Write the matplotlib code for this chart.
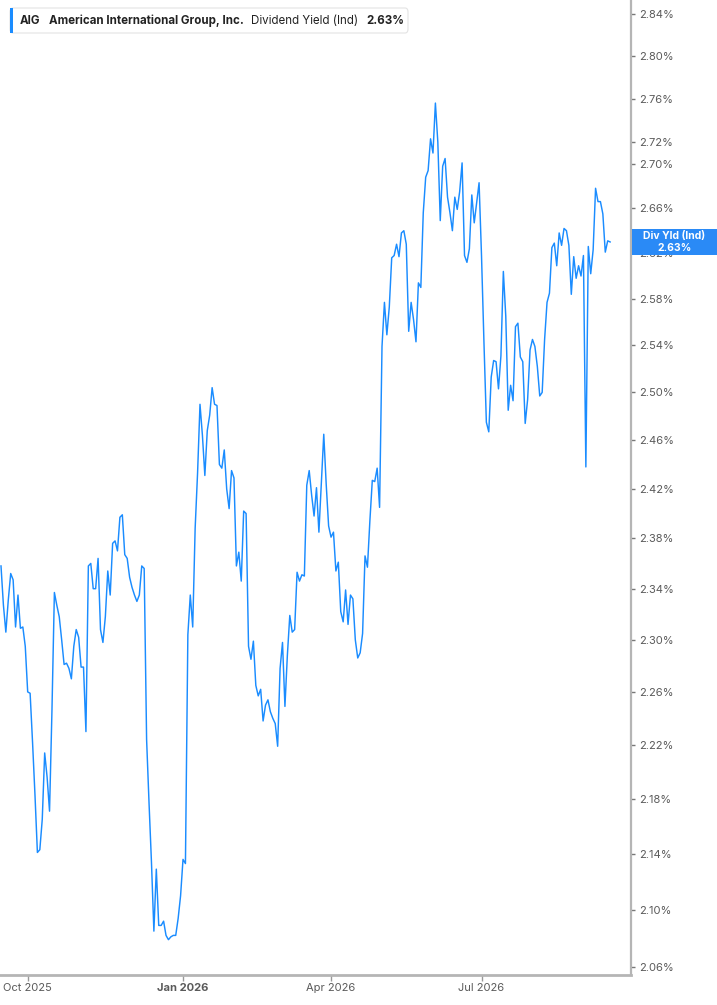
import numpy as np
import pandas as pd
import matplotlib
matplotlib.use("Agg")
import matplotlib.pyplot as plt
from matplotlib.patches import Rectangle, FancyBboxPatch
from matplotlib.transforms import IdentityTransform

symbol = "AIG"
company = "American International Group, Inc."
metric = "Dividend Yield (Ind)"
badge_name = "Div Yld (Ind)"

# NYSE holidays in the window
holidays = ["2025-11-27", "2025-12-25", "2026-01-01", "2026-01-19", "2026-02-16",
            "2026-04-03", "2026-05-25", "2026-06-19", "2026-07-03", "2026-09-07"]
dates = pd.bdate_range("2025-09-16", "2026-09-16", freq="C", holidays=holidays)

# dividend yield, % (one value per trading day)
yld = [
    2.358, 2.327, 2.306, 2.331, 2.352, 2.347, 2.310, 2.335, 2.309, 2.310,
    2.295, 2.260, 2.259, 2.222, 2.183, 2.141, 2.143, 2.165, 2.214, 2.196,
    2.171, 2.246, 2.337, 2.327, 2.318, 2.300, 2.281, 2.282, 2.278, 2.270,
    2.295, 2.308, 2.302, 2.279, 2.279, 2.230, 2.358, 2.360, 2.340, 2.340,
    2.364, 2.308, 2.298, 2.318, 2.354, 2.335, 2.376, 2.378, 2.370, 2.397,
    2.399, 2.367, 2.364, 2.349, 2.341, 2.335, 2.330, 2.335, 2.358, 2.356,
    2.224, 2.177, 2.134, 2.085, 2.129, 2.089, 2.089, 2.092, 2.082, 2.079,
    2.081, 2.082, 2.082, 2.094, 2.110, 2.136, 2.133, 2.304, 2.335, 2.310,
    2.388, 2.433, 2.490, 2.464, 2.431, 2.468, 2.481, 2.504, 2.490, 2.489,
    2.440, 2.437, 2.452, 2.420, 2.404, 2.435, 2.429, 2.358, 2.369, 2.346,
    2.402, 2.400, 2.295, 2.285, 2.299, 2.265, 2.257, 2.262, 2.238, 2.250,
    2.254, 2.245, 2.240, 2.236, 2.219, 2.278, 2.298, 2.249, 2.288, 2.319,
    2.306, 2.308, 2.353, 2.346, 2.351, 2.350, 2.423, 2.435, 2.415, 2.398,
    2.421, 2.385, 2.424, 2.465, 2.424, 2.390, 2.381, 2.385, 2.354, 2.361,
    2.322, 2.314, 2.339, 2.312, 2.335, 2.332, 2.300, 2.286, 2.290, 2.305,
    2.366, 2.357, 2.394, 2.427, 2.426, 2.437, 2.405, 2.539, 2.577, 2.549,
    2.573, 2.616, 2.618, 2.628, 2.617, 2.638, 2.640, 2.628, 2.552, 2.577,
    2.562, 2.543, 2.594, 2.590, 2.656, 2.688, 2.694, 2.723, 2.710, 2.756,
    2.720, 2.649, 2.698, 2.705, 2.670, 2.656, 2.640, 2.670, 2.659, 2.675,
    2.701, 2.618, 2.612, 2.624, 2.672, 2.647, 2.665, 2.683, 2.618, 2.543,
    2.475, 2.467, 2.513, 2.527, 2.526, 2.503, 2.531, 2.604, 2.565, 2.485,
    2.506, 2.493, 2.556, 2.559, 2.530, 2.526, 2.474, 2.494, 2.536, 2.545,
    2.539, 2.522, 2.497, 2.500, 2.545, 2.577, 2.585, 2.625, 2.629, 2.609,
    2.638, 2.627, 2.642, 2.640, 2.627, 2.584, 2.617, 2.598, 2.609, 2.600,
    2.618, 2.438, 2.626, 2.602, 2.623, 2.678, 2.666, 2.666, 2.655, 2.621,
    2.631, 2.630,
]

ytick_vals = [2.06, 2.10, 2.14, 2.18, 2.22, 2.26, 2.30, 2.34, 2.38, 2.42, 2.46,
              2.50, 2.54, 2.58, 2.62, 2.66, 2.70, 2.72, 2.76, 2.80, 2.84]

plt.rcParams['font.family'] = ['Inter', 'DejaVu Sans']

W, H = 717, 1005
line_col = '#1a8cff'

fig = plt.figure(figsize=(W / 100, H / 100), dpi=100)
ax = fig.add_axes([0, 30 / H, 631 / W, 975 / H])

x = np.arange(len(dates))
ax.plot(x, yld, color=line_col, lw=1.05)

ax.set_yscale('log')
ax.set_ylim(2.0544, 2.8534)
ax.set_xlim(-0.41, 259.6)

ax.yaxis.tick_right()
ax.set_yticks(ytick_vals, labels=[f"{v:.2f}%" for v in ytick_vals])
ax.minorticks_off()

# quarter ticks at first trading day of Oct / Jan / Apr / Jul
months = dates.month
xt = [i for i in range(1, len(dates)) if months[i] != months[i - 1] and months[i] in (1, 4, 7, 10)]
ax.set_xticks(xt, labels=[dates[i].strftime('%b %Y') for i in xt])
for lab in ax.get_xticklabels():
    if lab.get_text().startswith('Jan'):
        lab.set_fontweight('bold')
        lab.set_fontsize(10)
        lab.set_color('#4a4a4a')

for s in ['top', 'left']:
    ax.spines[s].set_visible(False)
for s in ['right', 'bottom']:
    ax.spines[s].set_color('#b5b5b5')
ax.spines['right'].set_linewidth(1.6)
ax.spines['bottom'].set_linewidth(2.0)

ax.tick_params(axis='y', length=3, width=1, color='#777', labelcolor='#5a5a5a',
               labelsize=8, pad=3)
ax.tick_params(axis='x', length=4, width=1, color='#999', labelcolor='#5a5a5a',
               labelsize=8, pad=2)

# value badge on right axis
yc = ax.transData.transform((0, yld[-1]))[1]
fig.add_artist(Rectangle((632, yc - 13), 85, 26, transform=IdentityTransform(),
                         facecolor='#2a8af6', edgecolor='none', zorder=5))
fig.text(674.5 / W, (yc + 6) / H, badge_name, ha='center', va='center',
         color='white', fontsize=7.5, fontweight='bold', zorder=6)
fig.text(674.5 / W, (yc - 6) / H, f"{yld[-1]:.2f}%", ha='center', va='center',
         color='white', fontsize=7.5, fontweight='bold', zorder=6)

# header legend
fig.add_artist(FancyBboxPatch((10 / W, 1 - 33 / H), 398 / W, 25 / H,
                              boxstyle='round,pad=0,rounding_size=0.004',
                              transform=fig.transFigure, facecolor='white',
                              edgecolor='#e3e3e3', lw=0.8, zorder=5))
fig.add_artist(Rectangle((10 / W, 1 - 33 / H), 3 / W, 25 / H, transform=fig.transFigure,
                         facecolor=line_col, edgecolor='none', zorder=6))
ty = 1 - 20.5 / H
hs = 8.3
fig.text(20 / W, ty, symbol, ha='left', va='center', fontsize=hs,
         fontweight='bold', color='#222', zorder=7)
fig.text(49 / W, ty, company, ha='left', va='center', fontsize=hs,
         fontweight='bold', color='#222', zorder=7)
fig.text(251 / W, ty, metric, ha='left', va='center', fontsize=hs,
         color='#222', zorder=7)
fig.text(366 / W, ty, f"{yld[-1]:.2f}%", ha='left', va='center', fontsize=hs,
         fontweight='bold', color='#222', zorder=7)

fig.savefig('out.png', dpi=100)
